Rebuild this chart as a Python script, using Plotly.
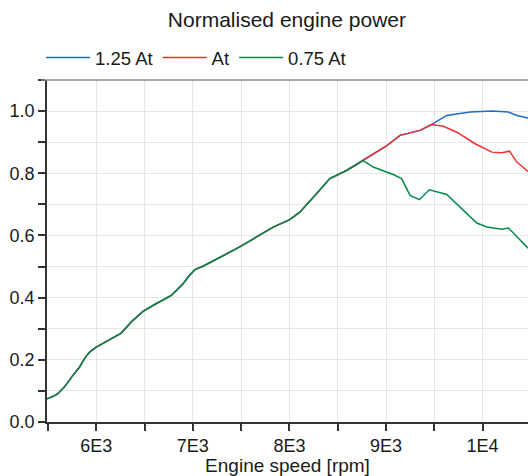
import plotly.graph_objects as go

# Engine speed [rpm] and normalised power per series
rpm_075 = [5490, 5560, 5602, 5672, 5758, 5827, 5878, 5931, 6000, 6104, 6259, 6363, 6484, 6605,
           6777, 6899, 6966, 7021, 7105, 7485, 7832, 8003, 8107, 8280, 8418, 8591, 8763,
           8867, 9075, 9161, 9249, 9345, 9449, 9629, 9767, 9940, 10044, 10199, 10268, 10355, 10470]
pow_075 = [0.075, 0.083, 0.091, 0.113, 0.150, 0.177, 0.204, 0.225, 0.241, 0.259, 0.286, 0.322, 0.356, 0.378,
           0.407, 0.445, 0.472, 0.490, 0.501, 0.563, 0.627, 0.651, 0.675, 0.734, 0.783, 0.809, 0.841,
           0.820, 0.796, 0.783, 0.729, 0.715, 0.747, 0.732, 0.691, 0.640, 0.627, 0.620, 0.624, 0.595, 0.559]

rpm_100 = [5490, 5560, 5602, 5672, 5758, 5827, 5878, 5931, 6000, 6104, 6259, 6363, 6484, 6605,
           6777, 6899, 6966, 7021, 7105, 7485, 7832, 8003, 8107, 8280, 8418, 8591, 8763,
           8938, 9000, 9145, 9352, 9473, 9594, 9733, 9922, 10095, 10199, 10278, 10355, 10470]
pow_100 = [0.075, 0.083, 0.091, 0.113, 0.150, 0.177, 0.204, 0.225, 0.241, 0.259, 0.286, 0.322, 0.356, 0.378,
           0.407, 0.445, 0.472, 0.490, 0.501, 0.563, 0.627, 0.651, 0.675, 0.734, 0.783, 0.809, 0.841,
           0.874, 0.887, 0.922, 0.938, 0.957, 0.951, 0.932, 0.895, 0.868, 0.866, 0.871, 0.836, 0.806]

rpm_125 = [5490, 5560, 5602, 5672, 5758, 5827, 5878, 5931, 6000, 6104, 6259, 6363, 6484, 6605,
           6777, 6899, 6966, 7021, 7105, 7485, 7832, 8003, 8107, 8280, 8418, 8591, 8763,
           8938, 9000, 9145, 9352, 9473, 9629, 9870, 10095, 10267, 10355, 10470]
pow_125 = [0.075, 0.083, 0.091, 0.113, 0.150, 0.177, 0.204, 0.225, 0.241, 0.259, 0.286, 0.322, 0.356, 0.378,
           0.407, 0.445, 0.472, 0.490, 0.501, 0.563, 0.627, 0.651, 0.675, 0.734, 0.783, 0.809, 0.841,
           0.874, 0.887, 0.922, 0.938, 0.957, 0.986, 0.997, 1.000, 0.997, 0.986, 0.978]

x_tickvals = [6000, 7000, 8000, 9000, 10000]
x_ticktext = ["6E3", "7E3", "8E3", "9E3", "1E4"]
y_tickvals = [0.0, 0.2, 0.4, 0.6, 0.8, 1.0]
y_ticktext = ["0.0", "0.2", "0.4", "0.6", "0.8", "1.0"]

FONT = "Arial, Liberation Sans, sans-serif"
TXT = "#1a1a1a"

fig = go.Figure()
fig.add_trace(go.Scatter(x=rpm_125, y=pow_125, mode="lines", name="1.25 At",
                         line=dict(color="rgb(28,108,200)", width=1.5)))
fig.add_trace(go.Scatter(x=rpm_100, y=pow_100, mode="lines", name="At",
                         line=dict(color="rgb(238,46,47)", width=1.5)))
fig.add_trace(go.Scatter(x=rpm_075, y=pow_075, mode="lines", name="0.75 At",
                         line=dict(color="rgb(0,140,72)", width=1.5)))

axis_common = dict(showline=True, linecolor="#333", linewidth=1.5, ticks="outside",
                   ticklen=7, tickcolor="#333", tickwidth=1.5, showgrid=True,
                   gridcolor="#e6e6e6", gridwidth=1, zeroline=False, automargin=False,
                   tickfont=dict(family=FONT, size=18, color=TXT))

fig.update_xaxes(range=[5490, 10470], tickvals=x_tickvals, ticktext=x_ticktext,
                 minor=dict(dtick=500, tick0=5500, ticks="outside", ticklen=7, tickcolor="#333",
                            tickwidth=1.5, showgrid=True, gridcolor="#e6e6e6", gridwidth=1),
                 title=dict(text="Engine speed [rpm]", standoff=2,
                            font=dict(family=FONT, size=19, color=TXT)),
                 **axis_common)
fig.update_yaxes(range=[0, 1.1], tickvals=y_tickvals, ticktext=y_ticktext,
                 minor=dict(dtick=0.1, tick0=0, ticks="outside", ticklen=7, tickcolor="#333",
                            tickwidth=1.5, showgrid=True, gridcolor="#e6e6e6", gridwidth=1),
                 **axis_common)

fig.update_layout(
    width=528, height=476,
    margin=dict(l=47, r=0, t=80, b=54, autoexpand=False),
    paper_bgcolor="white", plot_bgcolor="white",
    title=dict(text="Normalised engine power", x=0.5434, xanchor="center",
               y=1 - 20 / 476, yanchor="middle",
               font=dict(family=FONT, size=21, color=TXT)),
    showlegend=True,
    legend=dict(orientation="h", xref="container", yref="container",
                x=41 / 528, xanchor="left", y=1 - 58 / 476, yanchor="middle",
                font=dict(family=FONT, size=18.5, color=TXT), bgcolor="rgba(0,0,0,0)",
                itemwidth=44, tracegroupgap=0),
    shapes=[dict(type="line", xref="paper", yref="paper", x0=-6 / 481, x1=1, y0=1, y1=1,
                 line=dict(color="#8a8a8a", width=1.5))],
)

fig.write_html("out.html", config={"displayModeBar": False},
               post_script="document.body.style.margin='0';")
